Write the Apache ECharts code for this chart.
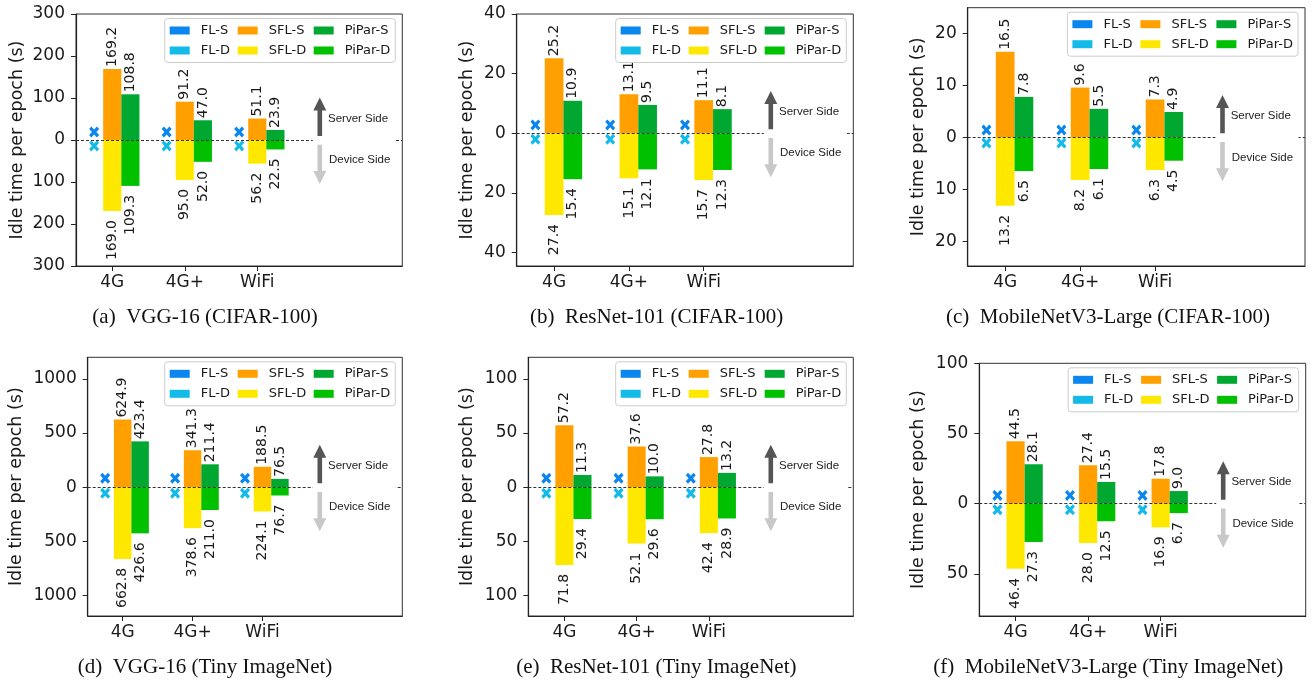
<!DOCTYPE html>
<html><head><meta charset="utf-8">
<script src="https://cdn.jsdelivr.net/npm/echarts@6/dist/echarts.min.js"></script>
<style>html,body{margin:0;padding:0;background:#fff}#c{width:1312px;height:680px}</style>
</head><body><div id="c"></div>
<script>
// ---------------- data ----------------
const categories = ['4G', '4G+', 'WiFi'];
const captions = [
  '(a)  VGG-16 (CIFAR-100)', '(b)  ResNet-101 (CIFAR-100)', '(c)  MobileNetV3-Large (CIFAR-100)',
  '(d)  VGG-16 (Tiny ImageNet)', '(e)  ResNet-101 (Tiny ImageNet)', '(f)  MobileNetV3-Large (Tiny ImageNet)'
];
const yAxisName = 'Idle time per epoch (s)';

// (a) VGG-16 CIFAR-100
const a_FL_S = [19, 19, 19];
const a_FL_D = [14, 14, 14];
const a_SFL_S = [169.2, 91.2, 51.1];
const a_SFL_D = [169.0, 95.0, 56.2];
const a_PiPar_S = [108.8, 47.0, 23.9];
const a_PiPar_D = [109.3, 52.0, 22.5];
const a_yTicks = [-300, -200, -100, 0, 100, 200, 300];
const a_yRange = [-300, 300];
// (b) ResNet-101 CIFAR-100
const b_FL_S = [2.8, 2.8, 2.8];
const b_FL_D = [2.0, 2.0, 2.0];
const b_SFL_S = [25.2, 13.1, 11.1];
const b_SFL_D = [27.4, 15.1, 15.7];
const b_PiPar_S = [10.9, 9.5, 8.1];
const b_PiPar_D = [15.4, 12.1, 12.3];
const b_yTicks = [-40, -20, 0, 20, 40];
const b_yRange = [-44.5, 40];
// (c) MobileNetV3-Large CIFAR-100
const c_FL_S = [1.4, 1.4, 1.4];
const c_FL_D = [1.1, 1.1, 1.1];
const c_SFL_S = [16.5, 9.6, 7.3];
const c_SFL_D = [13.2, 8.2, 6.3];
const c_PiPar_S = [7.8, 5.5, 4.9];
const c_PiPar_D = [6.5, 6.1, 4.5];
const c_yTicks = [-20, -10, 0, 10, 20];
const c_yRange = [-24.8, 25];
// (d) VGG-16 Tiny ImageNet
const d_FL_S = [83, 83, 83];
const d_FL_D = [56, 56, 56];
const d_SFL_S = [624.9, 341.3, 188.5];
const d_SFL_D = [662.8, 378.6, 224.1];
const d_PiPar_S = [423.4, 211.4, 76.5];
const d_PiPar_D = [426.6, 211.0, 76.7];
const d_yTicks = [-1000, -500, 0, 500, 1000];
const d_yRange = [-1190, 1200];
// (e) ResNet-101 Tiny ImageNet
const e_FL_S = [8.3, 8.3, 8.3];
const e_FL_D = [5.6, 5.6, 5.6];
const e_SFL_S = [57.2, 37.6, 27.8];
const e_SFL_D = [71.8, 52.1, 42.4];
const e_PiPar_S = [11.3, 10.0, 13.2];
const e_PiPar_D = [29.4, 29.6, 28.9];
const e_yTicks = [-100, -50, 0, 50, 100];
const e_yRange = [-119, 120];
// (f) MobileNetV3-Large Tiny ImageNet
const f_FL_S = [5.9, 5.9, 5.9];
const f_FL_D = [4.3, 4.3, 4.3];
const f_SFL_S = [44.5, 27.4, 17.8];
const f_SFL_D = [46.4, 28.0, 16.9];
const f_PiPar_S = [28.1, 15.5, 9.0];
const f_PiPar_D = [27.3, 12.5, 6.7];
const f_yTicks = [-50, 0, 50, 100];
const f_yRange = [-80, 100];

const panels = [
  {flS: a_FL_S, flD: a_FL_D, sflS: a_SFL_S, sflD: a_SFL_D, ppS: a_PiPar_S, ppD: a_PiPar_D, ticks: a_yTicks, range: a_yRange},
  {flS: b_FL_S, flD: b_FL_D, sflS: b_SFL_S, sflD: b_SFL_D, ppS: b_PiPar_S, ppD: b_PiPar_D, ticks: b_yTicks, range: b_yRange},
  {flS: c_FL_S, flD: c_FL_D, sflS: c_SFL_S, sflD: c_SFL_D, ppS: c_PiPar_S, ppD: c_PiPar_D, ticks: c_yTicks, range: c_yRange},
  {flS: d_FL_S, flD: d_FL_D, sflS: d_SFL_S, sflD: d_SFL_D, ppS: d_PiPar_S, ppD: d_PiPar_D, ticks: d_yTicks, range: d_yRange},
  {flS: e_FL_S, flD: e_FL_D, sflS: e_SFL_S, sflD: e_SFL_D, ppS: e_PiPar_S, ppD: e_PiPar_D, ticks: e_yTicks, range: e_yRange},
  {flS: f_FL_S, flD: f_FL_D, sflS: f_SFL_S, sflD: f_SFL_D, ppS: f_PiPar_S, ppD: f_PiPar_D, ticks: f_yTicks, range: f_yRange}
];

// ---------------- layout / style ----------------
const W = 1312;
const layout = [
  {left: 76,    top: 14,    width: 326.3, height: 252,   nameGap: 50, cx: 205,   cy: 317},
  {left: 516.7, top: 14,    width: 336.6, height: 252,   nameGap: 40, cx: 656.7, cy: 317},
  {left: 967.7, top: 7.7,   width: 337.3, height: 258.3, nameGap: 40, cx: 1108,  cy: 317},
  {left: 87.7,  top: 357.3, width: 314.6, height: 258.7, nameGap: 62, cx: 205,   cy: 667},
  {left: 528.3, top: 357.3, width: 325,   height: 258.7, nameGap: 52, cx: 656.3, cy: 667},
  {left: 979.3, top: 363.3, width: 326.4, height: 252.7, nameGap: 52, cx: 1108.3, cy: 667}
];
const COLORS = {
  'FL-S': '#0a86ee', 'FL-D': '#14bbe8',
  'SFL-S': '#ffa000', 'SFL-D': '#ffe800',
  'PiPar-S': '#00a832', 'PiPar-D': '#00c000'
};
const FONT = 'DejaVu Sans';
const INK = '#1a1a1a';
const XMARK = 'path://M0,2.2 L2.2,0 L5,2.8 L7.8,0 L10,2.2 L7.2,5 L10,7.8 L7.8,10 L5,7.2 L2.2,10 L0,7.8 L2.8,5 Z';

// slots: positions -0.5 .. 4.0 in steps of 0.25 ; category k sits at slot 2+4k
const SLOTS = 19;
const slotNames = [];
for (let i = 0; i < SLOTS; i++) slotNames.push('s' + i);
categories.forEach((c, k) => { slotNames[2 + 4 * k] = c; });
function place(values, offset, sign) {
  const arr = new Array(SLOTS).fill('-');
  values.forEach((v, k) => { arr[2 + 4 * k + offset] = sign * v; });
  return arr;
}
const isCat = (v) => categories.indexOf(v) >= 0;

const grid = [], xAxis = [], yAxis = [], series = [], legend = [];
panels.forEach((p, i) => {
  const g = layout[i];
  grid.push({left: g.left, top: g.top, width: g.width, height: g.height,
    show: true, borderColor: '#333', borderWidth: 1, backgroundColor: 'transparent'});
  xAxis.push({
    gridIndex: i, type: 'category', data: slotNames, boundaryGap: false,
    axisLine: {show: true, onZero: false, lineStyle: {color: '#222', width: 1.2}},
    axisTick: {show: true, interval: (idx, v) => isCat(v), length: 5, lineStyle: {color: '#222', width: 1}},
    axisLabel: {interval: (idx, v) => isCat(v), formatter: (v) => isCat(v) ? v : '',
      fontSize: 17, fontFamily: FONT, color: INK, margin: 8},
    splitLine: {show: false}
  });
  yAxis.push({
    gridIndex: i, type: 'value', min: p.range[0], max: p.range[1],
    name: yAxisName, nameLocation: 'middle', nameGap: g.nameGap,
    nameTextStyle: {fontSize: 17.5, fontFamily: FONT, color: INK},
    axisLine: {show: true, lineStyle: {color: '#222', width: 1.2}},
    axisTick: {show: true, length: 5, customValues: p.ticks, lineStyle: {color: '#222', width: 1}},
    axisLabel: {customValues: p.ticks, formatter: (v) => String(Math.abs(v)),
      fontSize: 17, fontFamily: FONT, color: INK, margin: 11},
    splitLine: {show: false}
  });
  const stack = 'st' + i;
  const labelUp = {show: true, position: 'outside', rotate: 90, align: 'left', verticalAlign: 'middle',
    distance: 2, fontSize: 14, fontFamily: FONT, color: INK,
    formatter: (q) => Math.abs(q.value).toFixed(1)};
  const labelDown = Object.assign({}, labelUp, {align: 'right', distance: 9});
  const barBase = {type: 'bar', xAxisIndex: i, yAxisIndex: i, stack: stack, barWidth: '100%', animation: false};
  series.push(Object.assign({}, barBase, {name: 'SFL-S', data: place(p.sflS, 0, 1),
    itemStyle: {color: COLORS['SFL-S']}, label: labelUp,
    markLine: {silent: true, symbol: 'none', label: {show: false},
      lineStyle: {type: [3, 2], color: '#333', width: 1}, data: [{yAxis: 0}]}}));
  series.push(Object.assign({}, barBase, {name: 'SFL-D', data: place(p.sflD, 0, -1),
    itemStyle: {color: COLORS['SFL-D']}, label: labelDown}));
  series.push(Object.assign({}, barBase, {name: 'PiPar-S', data: place(p.ppS, 1, 1),
    itemStyle: {color: COLORS['PiPar-S']}, label: labelUp}));
  series.push(Object.assign({}, barBase, {name: 'PiPar-D', data: place(p.ppD, 1, -1),
    itemStyle: {color: COLORS['PiPar-D']}, label: labelDown}));
  series.push({type: 'scatter', name: 'FL-S', xAxisIndex: i, yAxisIndex: i, data: place(p.flS, -1, 1),
    symbol: XMARK, symbolSize: [10, 11], itemStyle: {color: COLORS['FL-S'], opacity: 1}, z: 4, animation: false});
  series.push({type: 'scatter', name: 'FL-D', xAxisIndex: i, yAxisIndex: i, data: place(p.flD, -1, -1),
    symbol: XMARK, symbolSize: [10, 11], itemStyle: {color: COLORS['FL-D'], opacity: 1}, z: 4, animation: false});

  legend.push({
    right: W - (g.left + g.width) + 7, top: g.top + 4.5, orient: 'horizontal',
    itemGap: 4, itemWidth: 20, itemHeight: 8, padding: [4, 5, 4, 5],
    borderColor: '#cccccc', borderWidth: 1, borderRadius: 3, backgroundColor: 'rgba(255,255,255,0.85)',
    selectedMode: false,
    textStyle: {fontSize: 13, fontFamily: FONT, color: INK, padding: [0, 0, 0, 6], lineHeight: 16},
    data: [
      {name: 'FL-S', icon: 'rect', textStyle: {width: 33}},
      {name: 'SFL-S', icon: 'rect', textStyle: {width: 41}},
      {name: 'PiPar-S', icon: 'rect'},
      '',
      {name: 'FL-D', icon: 'rect', textStyle: {width: 33}},
      {name: 'SFL-D', icon: 'rect', textStyle: {width: 41}},
      {name: 'PiPar-D', icon: 'rect'}
    ]
  });
});

const chart = echarts.init(document.getElementById('c'), null, {renderer: 'canvas'});
chart.setOption({animation: false, grid, xAxis, yAxis, series, legend});

// annotations (arrows, side texts, captions) placed relative to each panel's zero line
const graphic = [];
panels.forEach((p, i) => {
  const g = layout[i];
  const y0 = chart.convertToPixel({gridIndex: i}, [0, 0])[1];
  const right = g.left + g.width;
  const ax = right - 82.5;
  graphic.push({type: 'rect', z: 50, shape: {x: right - 89.5, y: y0 - 2, width: 83, height: 4},
    style: {fill: '#ffffff'}});
  const hw = 6.5, sw = 2.3, hl = 13;
  const upTip = y0 - 42.4, upTail = y0 - 4;
  graphic.push({type: 'polygon', z: 60, shape: {points: [
    [ax, upTip], [ax + hw, upTip + hl], [ax + sw, upTip + hl], [ax + sw, upTail],
    [ax - sw, upTail], [ax - sw, upTip + hl], [ax - hw, upTip + hl]]}, style: {fill: '#555555'}});
  const dnTip = y0 + 44, dnTail = y0 + 4.7;
  graphic.push({type: 'polygon', z: 60, shape: {points: [
    [ax, dnTip], [ax + hw, dnTip - hl], [ax + sw, dnTip - hl], [ax + sw, dnTail],
    [ax - sw, dnTail], [ax - sw, dnTip - hl], [ax - hw, dnTip - hl]]}, style: {fill: '#c8c8c8'}});
  graphic.push({type: 'text', z: 60, x: right - 74.3, y: y0 - 21.5,
    style: {text: 'Server Side', font: '11.5px "Liberation Sans"', fill: '#222', textVerticalAlign: 'middle', textAlign: 'left'}});
  graphic.push({type: 'text', z: 60, x: right - 73.3, y: y0 + 20,
    style: {text: 'Device Side', font: '11.5px "Liberation Sans"', fill: '#222', textVerticalAlign: 'middle', textAlign: 'left'}});
  graphic.push({type: 'text', z: 60, x: g.cx, y: g.cy,
    style: {text: captions[i], font: '21px "Liberation Serif"', fill: '#111', textAlign: 'center', textVerticalAlign: 'middle'}});
});
chart.setOption({graphic});
</script>
</body></html>
